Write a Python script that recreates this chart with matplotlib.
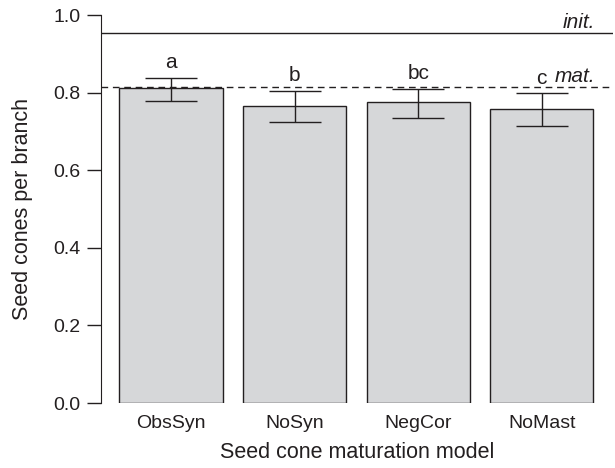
import matplotlib
matplotlib.use("Agg")
import matplotlib.pyplot as plt
import numpy as np

plt.rcParams['font.family'] = ['Liberation Sans', 'DejaVu Sans']

categories = ["ObsSyn", "NoSyn", "NegCor", "NoMast"]
means = [0.811, 0.766, 0.775, 0.757]
err_upper = [0.838, 0.805, 0.810, 0.798]
err_lower = [0.779, 0.725, 0.734, 0.713]
letters = ["a", "b", "bc", "c"]
init_level = 0.954
mat_level = 0.814
yticks = [0.0, 0.2, 0.4, 0.6, 0.8, 1.0]

fig = plt.figure(figsize=(6.15, 4.68), dpi=100)
ax = fig.add_axes([101/615, 1-403/468, 512/615, 388/468])

x = np.arange(len(categories))
means_a = np.array(means)
yerr = [means_a - np.array(err_lower), np.array(err_upper) - means_a]
ink = '#231f20'
ax.bar(x, means, width=0.835, color='#d6d7d9', edgecolor=ink, linewidth=1.0, zorder=2)
ax.errorbar(x, means, yerr=yerr, fmt='none', ecolor=ink, elinewidth=1.0,
            capsize=19, capthick=1.0, zorder=3)

ax.axhline(init_level, color=ink, linewidth=1.0, zorder=1)
ax.axhline(mat_level, color=ink, linewidth=1.0, linestyle=(0, (4.8, 3.4)), zorder=4)

for xi, up, lab in zip(x, err_upper, letters):
    ax.annotate(lab, (xi, up), xytext=(0, 4), textcoords='offset points',
                ha='center', va='bottom', fontsize=15, color=ink)

ax.text(3.43, mat_level + 0.013, "mat.", ha='right', va='baseline', fontsize=15,
        style='italic', color=ink)
ax.text(3.43, init_level + 0.013, "init.", ha='right', va='baseline', fontsize=15,
        style='italic', color=ink)

ax.set_xlim(-0.567, 3.577)
ax.set_ylim(0, 1.0)
ax.set_yticks(yticks)
ax.set_yticklabels([f"{v:.1f}" for v in yticks])
ax.set_xticks(x)
ax.set_xticklabels(categories)
for s in ['top', 'right', 'bottom']:
    ax.spines[s].set_visible(False)
ax.spines['left'].set_color(ink)
ax.tick_params(axis='y', direction='out', length=10, width=1.0, color=ink,
               labelsize=14, labelcolor=ink, pad=5)
ax.tick_params(axis='x', length=0, labelsize=14, labelcolor=ink, pad=9)
ax.set_ylabel("Seed cones per branch", fontsize=15.5, color=ink, va='center')
ax.set_xlabel("Seed cone maturation model", fontsize=15.5, color=ink, va='center')
ax.yaxis.set_label_coords((23-101)/512, 0.5)
ax.xaxis.set_label_coords(0.5, (403-453)/388)

fig.savefig("out.png", dpi=100)
